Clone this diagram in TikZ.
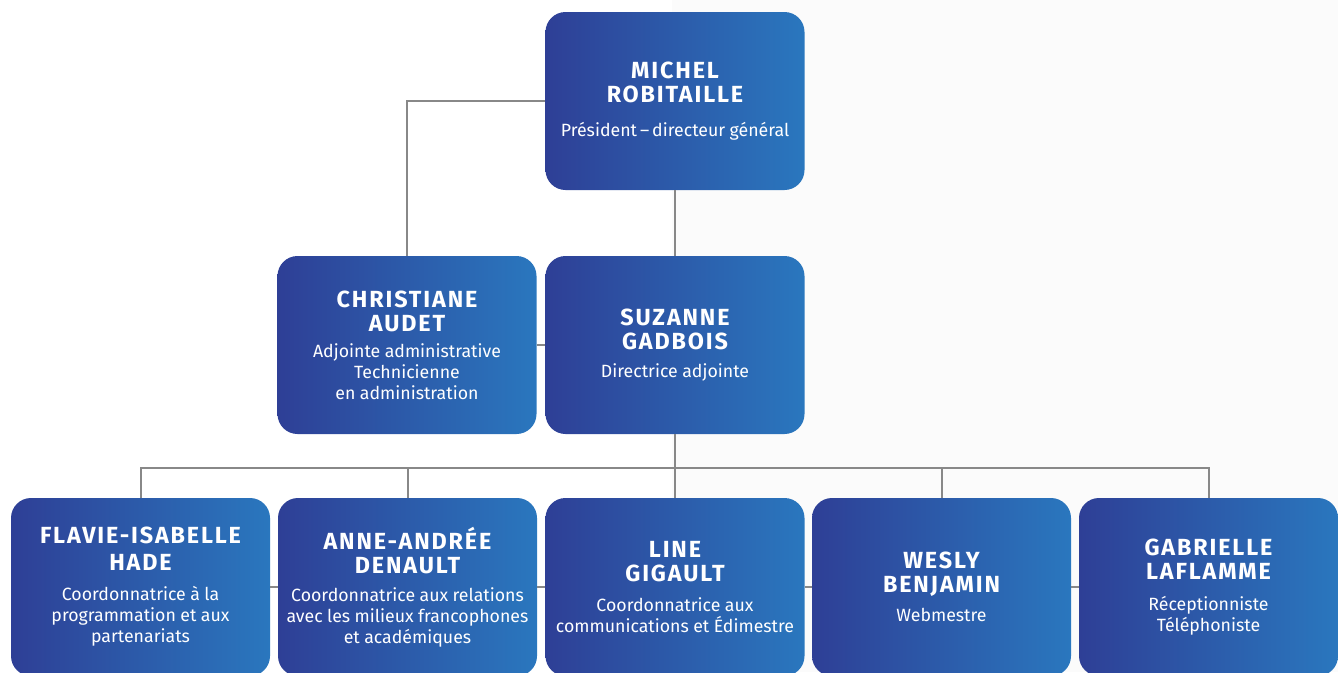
\documentclass[tikz,border=0pt]{standalone}
\usepackage{fontspec}
\setmainfont{Fira Sans}
\usetikzlibrary{positioning}
\definecolor{boxleft}{RGB}{46,63,150}
\definecolor{boxmid}{RGB}{48,96,172}
\definecolor{boxright}{RGB}{42,119,190}
\definecolor{linkgray}{RGB}{136,136,136}
\definecolor{pagegray}{RGB}{251,251,251}
\newcommand{\pname}[1]{{\fontsize{17.5pt}{18pt}\selectfont\bfseries\addfontfeature{LetterSpace=8}#1\par}}
\newcommand{\prole}[1]{{\fontsize{13.3pt}{15.75pt}\selectfont #1\par}}
\begin{document}
\begin{tikzpicture}[x=0.75pt,y=-0.75pt,
		person/.style={rounded corners=15pt,left color=boxleft,middle color=boxmid,right color=boxright,
			minimum width=194.25pt,minimum height=133.5pt,text width=192pt,align=center,
			inner sep=0pt,text=white},
		link/.style={draw=linkgray,line width=1.5pt}]
	\useasboundingbox (0,0) rectangle (1338,672);
	\fill[pagegray] (672,0) rectangle (1338,672);
	% direction
	\node[person] (michel) at (675,101) {\pname{MICHEL\\ROBITAILLE}\vspace{10pt}\prole{Président\,–\,directeur général}};
	\node[person] (christiane) at (407,345) {\pname{CHRISTIANE\\AUDET}\vspace{4pt}\prole{Adjointe administrative\\Technicienne\\en administration}};
	\node[person] (suzanne) at (675,345) {\pname{SUZANNE\\GADBOIS}\vspace{5pt}\prole{Directrice adjointe}};
	% equipe
	\node[person] (flavie) at (140.5,587) {\pname{FLAVIE-ISABELLE\\[2pt]HADE}\vspace{7pt}\prole{Coordonnatrice à la\\programmation et aux\\partenariats}};
	\node[person] (anne) at (407.5,587) {\pname{ANNE-ANDRÉE\\DENAULT}\vspace{5pt}\prole{Coordonnatrice aux relations\\avec les milieux francophones\\et académiques}};
	\node[person] (line) at (675,587) {\pname{LINE\\GIGAULT}\vspace{7pt}\prole{Coordonnatrice aux\\communications et Édimestre}};
	\node[person] (wesly) at (941.5,587) {\pname{WESLY\\BENJAMIN}\vspace{6pt}\prole{Webmestre}};
	\node[person] (gabrielle) at (1208.5,587) {\pname{GABRIELLE\\LAFLAMME}\vspace{7pt}\prole{Réceptionniste\\Téléphoniste}};
	\draw[link] (michel.west) -| (christiane.north);
	\draw[link] (michel.south) -- (suzanne.north);
	\draw[link] (christiane.east) -- (suzanne.west);
	\foreach \n in {flavie,anne,line,wesly,gabrielle}
		\draw[link] (suzanne.south) -- ++(0,34) -| (\n.north);
	\draw[link] (flavie.east) -- (anne.west) (anne.east) -- (line.west)
		(line.east) -- (wesly.west) (wesly.east) -- (gabrielle.west);
\end{tikzpicture}
\end{document}
